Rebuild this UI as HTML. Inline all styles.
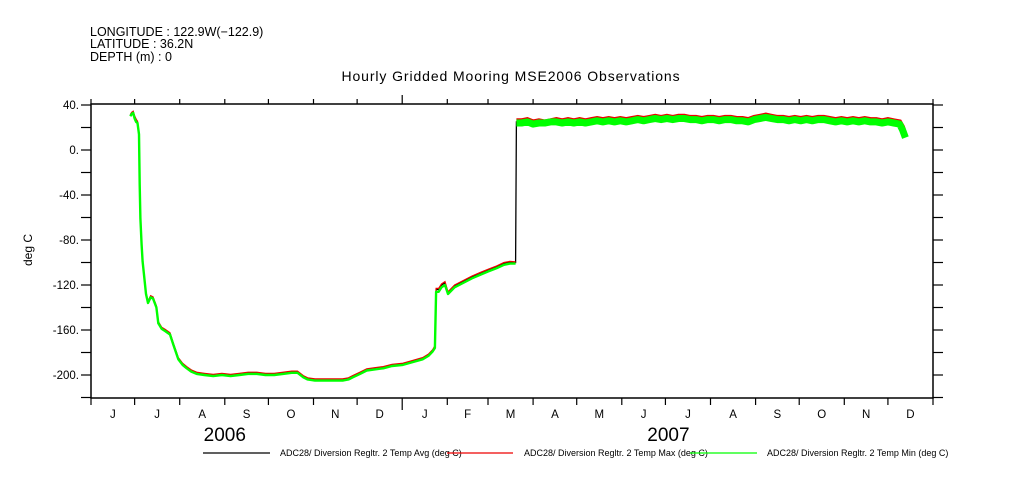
<!DOCTYPE html>
<html><head><meta charset="utf-8"><style>
body{margin:0;background:#fff;}
svg{display:block;font-family:"Liberation Sans",sans-serif;}
</style></head><body>
<svg id="chart" width="1009" height="504" viewBox="0 0 1009 504">
<g font-size="12.5" fill="#000">
<text x="90" y="36">LONGITUDE : 122.9W(−122.9)</text>
<text x="90" y="48">LATITUDE : 36.2N</text>
<text x="90" y="61">DEPTH (m) : 0</text>
</g>
<text x="511" y="81" text-anchor="middle" font-size="14" letter-spacing="0.9">Hourly Gridded Mooring MSE2006 Observations</text>
<text transform="translate(32,250) rotate(-90)" text-anchor="middle" font-size="12">deg C</text>
<g id="axes"></g>
<g id="series"></g>
<g font-size="9">
<line x1="203" y1="453" x2="270" y2="453" stroke="#000" stroke-width="1.2"/>
<text x="280" y="456">ADC28/ Diversion Regltr. 2 Temp Avg (deg C)</text>
<line x1="447" y1="453" x2="513" y2="453" stroke="#e00" stroke-width="1.2"/>
<text x="524" y="456">ADC28/ Diversion Regltr. 2 Temp Max (deg C)</text>
<line x1="690" y1="453" x2="757" y2="453" stroke="#0f0" stroke-width="1.2"/>
<text x="767" y="456">ADC28/ Diversion Regltr. 2 Temp Min (deg C)</text>
</g>
</svg>
<script>
const monthLabels=["J","J","A","S","O","N","D","J","F","M","A","M","J","J","A","S","O","N","D"];
const monthStarts=[0,30,61,92,122,153,183,214,245,273,304,334,365,395,426,457,487,518,548,579];
const yearLabels=["2006","2007"];
const yTicks=[40,0,-40,-80,-120,-160,-200];
const days=[27,28,29,30,31,32,33,33.5,34,34.8,35.5,36.4,37.8,39.2,41,42.6,45,46.3,48.6,51,54.3,56.6,60,63,65.8,69,72.7,78,84,90,96,102,108,114,120,126,132,138,142,146,149,154,160,166,173,177,180,185,189.6,195,201,207,214.5,220,228,232,235,236.5,237.3,239,241,243.4,245.5,250,256,262,267.5,273,279,284,288,292,292.5,
296,300,304,308,312,316,320,324,328,332,336,340,344,348,352,356,360,364,368,372,376,380,384,388,392,396,400,404,408,412,416,420,424,428,432,436,440,444,448,452,456,460,464,468,472,476,480,484,488,492,496,500,504,508,512,516,520,524,528,532,536,540,544,548,552,556,558,560];
const avgVals=[31,33,34,30,27,25,15,-30,-60,-83,-98,-109,-127,-135,-130,-131,-139,-153,-158,-160,-163,-172,-185,-190,-193,-196,-198,-199,-200,-199,-200,-199,-198,-198,-199,-199,-198,-197,-197,-201,-203,-204,-204,-204,-204,-203,-201,-198,-195,-194,-193,-191,-190,-188,-185,-182,-178,-175,-124,-124,-120,-118,-127,-121,-117,-113,-110,-107,-104,-101,-99.5,-100,25,
25,26,24,25,24,25,26,25,26,25,26,25,26,27,26,27,26,27,26,27,28,27,28,29,28,29,28,29,29,28,28,27,28,28,27,28,28,27,27,26,28,29,30,29,28,28,27,28,27,28,27,28,28,27,26,27,26,27,26,27,26,26,25,26,25,24,20,12];
const maxVals=[31.5,33.5,34.5,30.5,27.5,25.5,15.5,-29.5,-59.5,-82.5,-97.5,-108.5,-126.5,-134.5,-129.5,-130.5,-138.5,-152.5,-157.5,-159.5,-162.5,-171.5,-184.5,-189.5,-192.5,-195.5,-197.5,-198.5,-199.5,-198.5,-199.5,-198.5,-197.5,-197.5,-198.5,-198.5,-197.5,-196.5,-196.5,-200.5,-202.5,-203.5,-203.5,-203.5,-203.5,-202.5,-200.5,-197.5,-194.5,-193.5,-192.5,-190.5,-189.5,-187.5,-184.5,-181.5,-177.5,-174,-123,-123,-119,-117,-126,-120,-116,-112,-109,-106,-103,-100,-99,-99.5,26,
26,27,25,26,25,26,27,26,27,26,27,26,27,28,27,28,27,28,27,28,29,28,29,30,29,30,29,30,30,29,29,28,29,29,28,29,29,28,28,27,29,30,31,30,29,29,28,29,28,29,28,29,29,28,27,28,27,28,27,28,27,27,26,27,26,25,20.5,12.5];
const minVals=[30,32,33,28,25,24,14,-31,-61,-84,-99,-110,-128,-136,-131,-132,-140,-154,-159,-161,-164,-173,-186,-191,-194,-197,-199,-200,-201,-200,-201,-200,-199,-199,-200,-200,-199,-198,-198,-202,-204,-205,-205,-205,-205,-204,-202,-199,-196,-195,-194,-192,-191,-189,-186,-183,-179,-176,-126,-126,-122,-120,-128,-122,-118,-114,-111,-108,-105,-102,-101,-101,24,
24,25,23,24,24,25,25,24,25,24,25,24,25,26,25,26,25,26,25,26,27,26,27,28,27,28,27,28,28,27,27,26,27,27,26,27,27,26,26,25,27,28,29,28,27,27,26,27,26,27,26,27,27,26,25,26,25,26,25,26,25,25,24,25,24,23,18,11];

const X0=91,X1=933,Y0=104,Y1=398;
function xs(d){return X0+(d-monthStarts[0])*(X1-X0)/(monthStarts[monthStarts.length-1]-monthStarts[0]);}
function ys(v){return 150-v*1.125;}
const NS="http://www.w3.org/2000/svg";
function mk(tag,attrs,parent){const e=document.createElementNS(NS,tag);for(const k in attrs)e.setAttribute(k,attrs[k]);parent.appendChild(e);return e;}
const ax=document.getElementById('axes');
let f=mk('rect',{x:X0,y:Y0,width:X1-X0,height:Y1-Y0,fill:'none',stroke:'#000','stroke-width':1.5},ax);


for(let v=40;v>=-220;v-=20){
  const y=ys(v); if(y>Y1+0.5)continue;
  let t=mk('line',{x1:X0-10,y1:y,x2:X0,y2:y,stroke:'#000','stroke-width':1.2},ax);
  
  
  let t2=mk('line',{x1:X1,y1:y,x2:X1+10,y2:y,stroke:'#000','stroke-width':1.2},ax);
  
  
}
yTicks.forEach(v=>{
  let l=mk('text',{x:X0-12,y:ys(v)+4,'text-anchor':'end','font-size':11.5},ax);
  l.textContent=v+'.';
  
  
});
monthStarts.forEach((d,i)=>{
  const x=xs(d); const major=(i===7);
  let t=mk('line',{x1:x,y1:Y1,x2:x,y2:Y1+(major?12:7),stroke:'#000','stroke-width':1.2},ax);
  
  
  let t2=mk('line',{x1:x,y1:Y0-(major?9:5),x2:x,y2:Y0,stroke:'#000','stroke-width':1.2},ax);
  
  
});
monthLabels.forEach((m,i)=>{
  const x=(xs(monthStarts[i])+xs(monthStarts[i+1]))/2;
  let l=mk('text',{x:x,y:418,'text-anchor':'middle','font-size':11.5},ax);
  l.textContent=m;
  
  
});
const yearCenters=[xs(92),xs(395)];
yearLabels.forEach((yl,i)=>{
  let l=mk('text',{x:yearCenters[i]+(i?3:0),y:441,'text-anchor':'middle','font-size':19},ax);
  l.textContent=yl;
  
  
});
const sg=document.getElementById('series');
const split=days.indexOf(292.5);
function pts(arr,a,b){let s=[];for(let i=a;i<b;i++)s.push(xs(days[i]).toFixed(1)+','+ys(arr[i]).toFixed(1));return s.join(' ');}
let pa=mk('polyline',{points:pts(avgVals,0,days.length),fill:'none',stroke:'#000','stroke-width':1.3},sg);


let pm=mk('polyline',{points:pts(maxVals,0,split),fill:'none',stroke:'#e00','stroke-width':1.2},sg);


let pm2=mk('polyline',{points:pts(maxVals,split,days.length),fill:'none',stroke:'#e00','stroke-width':5},sg);


let pn=mk('polyline',{points:pts(minVals,0,split),fill:'none',stroke:'#0f0','stroke-width':2.4,'stroke-linejoin':'round'},sg);


let pn2=mk('polyline',{points:pts(minVals,split,days.length),fill:'none',stroke:'#0f0','stroke-width':7,'stroke-linejoin':'round'},sg);


</script>
</body></html>
